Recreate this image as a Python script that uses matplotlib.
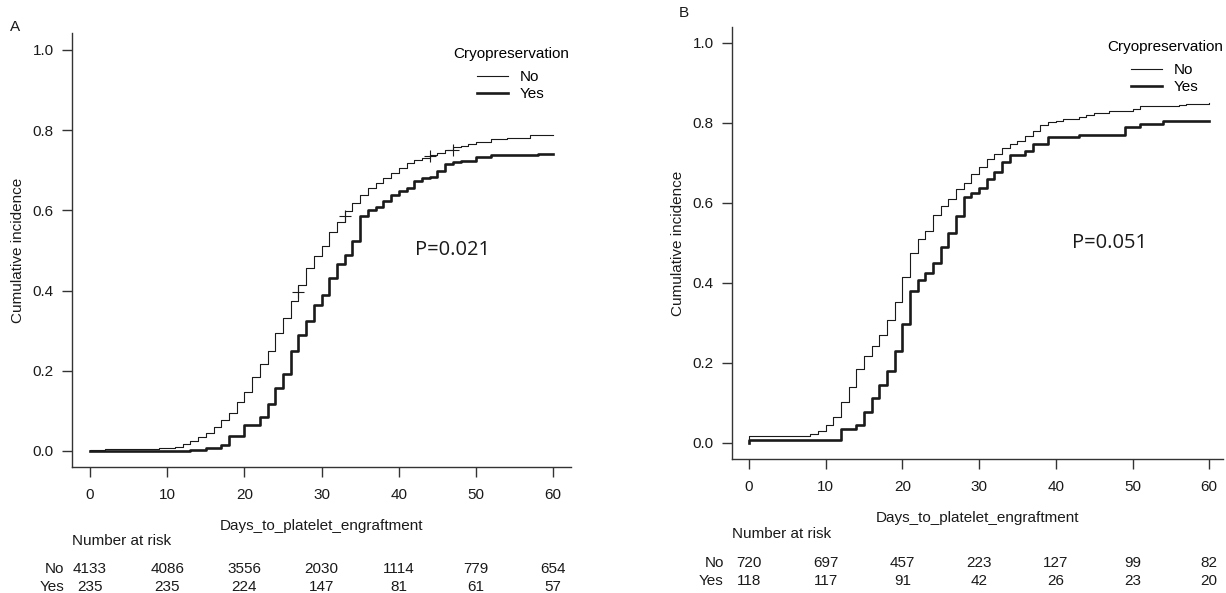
import matplotlib
matplotlib.use('Agg')
import matplotlib.pyplot as plt
from matplotlib.transforms import blended_transform_factory

plt.rcParams['font.family'] = ['Liberation Sans Narrow', 'Liberation Sans', 'DejaVu Sans']

# ---- data ----
xticks = [0, 10, 20, 30, 40, 50, 60]
yticks = [0.0, 0.2, 0.4, 0.6, 0.8, 1.0]
groups = ['No', 'Yes']

# panel A
a_no_days = [0, 0, 2, 9, 11, 12, 13, 14, 15, 16, 17, 18, 19, 20, 21, 22, 23, 24, 25, 26, 27, 28, 29,
             30, 31, 32, 33, 34, 35, 36, 37, 38, 39, 40, 41, 42, 43, 44, 45, 46, 47, 48, 49, 50,
             52, 54, 57, 60]
a_no_vals = [0.0, 0.003, 0.005, 0.008, 0.011, 0.017, 0.024, 0.035, 0.046, 0.059, 0.077, 0.094,
             0.122, 0.147, 0.185, 0.217, 0.25, 0.294, 0.331, 0.375, 0.413, 0.456, 0.485, 0.511,
             0.545, 0.572, 0.597, 0.618, 0.638, 0.655, 0.668, 0.68, 0.692, 0.705, 0.717, 0.726,
             0.731, 0.738, 0.744, 0.751, 0.757, 0.761, 0.766, 0.77, 0.777, 0.781, 0.787, 0.788]
a_yes_days = [0, 13, 15, 17, 18, 20, 22, 23, 24, 25, 26, 27, 28, 29, 30, 31, 32, 33, 34, 35, 36,
              37, 38, 39, 40, 41, 42, 43, 44, 45, 46, 47, 48, 49, 50, 52, 58, 60]
a_yes_vals = [0.0, 0.003, 0.008, 0.015, 0.037, 0.064, 0.084, 0.118, 0.157, 0.192, 0.25, 0.29,
              0.324, 0.363, 0.39, 0.43, 0.467, 0.488, 0.524, 0.586, 0.601, 0.609, 0.622, 0.638,
              0.648, 0.655, 0.672, 0.68, 0.684, 0.697, 0.716, 0.72, 0.722, 0.723, 0.732, 0.738,
              0.741, 0.741]
a_cens_days = [27, 33, 44, 47]
a_cens_vals = [0.397, 0.585, 0.736, 0.751]
a_no_risk = [4133, 4086, 3556, 2030, 1114, 779, 654]
a_yes_risk = [235, 235, 224, 147, 81, 61, 57]
a_pval = 'P=0.021'

# panel B
b_no_days = [0, 0, 8, 9, 10, 11, 12, 13, 14, 15, 16, 17, 18, 19, 20, 21, 22, 23, 24, 25, 26, 27,
             28, 29, 30, 31, 32, 33, 34, 35, 36, 37, 38, 39, 40, 41, 43, 44, 45, 47, 50, 51, 56,
             57, 60]
b_no_vals = [0.0, 0.017, 0.022, 0.03, 0.044, 0.066, 0.102, 0.14, 0.184, 0.218, 0.242, 0.271, 0.307,
             0.352, 0.416, 0.474, 0.509, 0.531, 0.571, 0.592, 0.609, 0.634, 0.649, 0.672, 0.689,
             0.709, 0.723, 0.737, 0.748, 0.756, 0.768, 0.781, 0.795, 0.802, 0.806, 0.81, 0.814,
             0.82, 0.826, 0.83, 0.836, 0.842, 0.844, 0.847, 0.849]
b_yes_days = [0, 0, 12, 14, 15, 16, 17, 18, 19, 20, 21, 22, 23, 24, 25, 26, 27, 28, 29, 30, 31,
              32, 33, 34, 36, 37, 39, 43, 49, 51, 54, 60]
b_yes_vals = [0.0, 0.008, 0.035, 0.044, 0.078, 0.112, 0.145, 0.179, 0.23, 0.298, 0.38, 0.407,
              0.424, 0.449, 0.49, 0.525, 0.567, 0.616, 0.626, 0.637, 0.66, 0.678, 0.703, 0.72,
              0.731, 0.748, 0.764, 0.771, 0.789, 0.798, 0.805, 0.805]
b_no_risk = [720, 697, 457, 223, 127, 99, 82]
b_yes_risk = [118, 117, 91, 42, 26, 23, 20]
b_pval = 'P=0.051'

INK = '#1a1a1a'
FS = 11
W, H = 1226, 593

fig = plt.figure(figsize=(W / 100, H / 100), dpi=100, facecolor='white')


def px_box(left, top, right, bottom):
    # pixel box -> figure fraction rect
    return [left / W, 1 - bottom / H, (right - left) / W, (bottom - top) / H]


def draw_panel(rect, letter, letter_xy, curves, cens, risks, pval, leg_anchor, xlim, ylim,
               risk_rows_px):
    ax = fig.add_axes(rect)
    (nd, nv), (yd, yv) = curves
    ax.step(nd, nv, where='post', color=INK, lw=0.8, label=groups[0])
    ax.step(yd, yv, where='post', color=INK, lw=1.9, label=groups[1])
    if cens is not None:
        ax.plot(cens[0], cens[1], ls='none', marker='+', ms=8, mew=0.8, color=INK)

    ax.set_xlim(*xlim)
    ax.set_ylim(*ylim)
    ax.set_xticks(xticks)
    ax.set_yticks(yticks)
    ax.set_yticklabels(['%.1f' % t for t in yticks])
    for s in ['top', 'right']:
        ax.spines[s].set_visible(False)
    for s in ['left', 'bottom']:
        ax.spines[s].set_color('#333333')
        ax.spines[s].set_linewidth(1.0)
    ax.tick_params(axis='x', length=7, width=1.0, pad=8, labelsize=FS, colors='#333333',
                   labelcolor=INK)
    ax.tick_params(axis='y', length=7, width=1.0, pad=6, labelsize=FS, colors='#333333',
                   labelcolor=INK)

    ax.set_xlabel('Days_to_platelet_engraftment', fontsize=FS, color=INK)
    ax.xaxis.set_label_coords(0.5, -0.136)
    ax.xaxis.label.set_va('center')
    ax.set_ylabel('Cumulative incidence', fontsize=FS, color=INK)
    ax.yaxis.set_label_coords(-0.109, 0.5)
    ax.yaxis.label.set_va('center')

    ax.text(42.1, 0.5, pval, fontsize=14.5, family=['Open Sans', 'DejaVu Sans'], color=INK,
            ha='left', va='center')

    leg = ax.legend(title='Cryopreservation', loc='upper center', bbox_to_anchor=leg_anchor,
                    bbox_transform=fig.transFigure, frameon=False, fontsize=FS,
                    title_fontsize=FS, borderpad=0, labelspacing=0.2, handlelength=2.0,
                    handletextpad=0.8)
    leg._legend_box.sep = 7

    fig.text(letter_xy[0] / W, 1 - letter_xy[1] / H, letter, fontsize=FS, color=INK,
             ha='center', va='center')

    # number at risk table
    tr = blended_transform_factory(ax.transData, fig.transFigure)
    tr_ax = blended_transform_factory(ax.transAxes, fig.transFigure)
    head_y, no_y, yes_y = [1 - p / H for p in risk_rows_px]
    ax.text(0.0, head_y, 'Number at risk', transform=tr_ax, fontsize=FS, color=INK,
            ha='left', va='center')
    for row_y, name, vals in [(no_y, groups[0], risks[0]), (yes_y, groups[1], risks[1])]:
        ax.text(-3.3, row_y, name, transform=tr, fontsize=FS, color=INK, ha='right',
                va='center', clip_on=False)
        for t, v in zip(xticks, vals):
            ax.text(t, row_y, str(v), transform=tr, fontsize=FS, color=INK, ha='center',
                    va='center', clip_on=False)
    return ax


draw_panel(px_box(72, 33, 571, 467), 'A', (15, 27),
           [(a_no_days, a_no_vals), (a_yes_days, a_yes_vals)],
           (a_cens_days, a_cens_vals), (a_no_risk, a_yes_risk), a_pval,
           (511 / W, 1 - 39 / H), (-2.33, 62.3), (-0.04, 1.042), (541, 569, 587))

draw_panel(px_box(732, 27, 1223, 459), 'B', (684, 13),
           [(b_no_days, b_no_vals), (b_yes_days, b_yes_vals)],
           None, (b_no_risk, b_yes_risk), b_pval,
           (1165 / W, 1 - 32 / H), (-2.22, 61.8), (-0.04, 1.04), (534, 563, 581))

fig.savefig('out.png', dpi=100, facecolor='white')
